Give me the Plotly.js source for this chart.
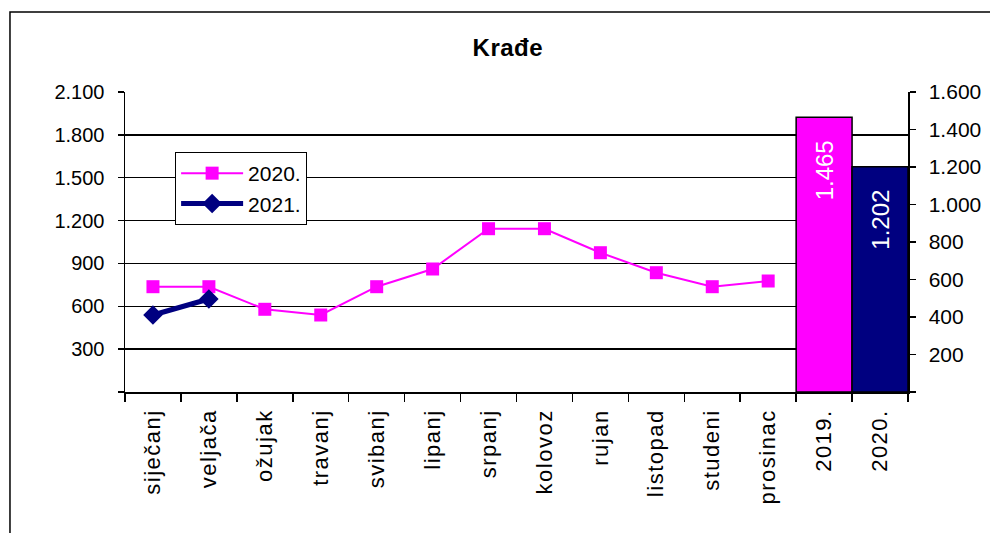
<!DOCTYPE html>
<html><head><meta charset="utf-8">
<script src="https://cdn.plot.ly/plotly-3.0.1.min.js"></script>
<style>body{margin:0;background:#fff}#c{width:990px;height:533px}
#c .xtick text{letter-spacing:1.5px}
#c .gtitle{letter-spacing:0.5px}
</style>
</head><body><div id="c"></div>
<script>
const categories = ['siječanj','veljača','ožujak','travanj','svibanj','lipanj','srpanj','kolovoz','rujan','listopad','studeni','prosinac','2019.','2020.'];
const months = categories.slice(0,12);
const values2020 = [737,737,579,539,737,861,1143,1143,975,835,737,777];
const months2021 = ['siječanj','veljača'];
const values2021 = [539,651];
const barCats = ['2019.','2020.'];
const barValues = [1465,1202];
const leftTicks = [0,300,600,900,1200,1500,1800,2100];
const leftTickText = ['','300','600','900','1.200','1.500','1.800','2.100'];
const rightTicks = [0,200,400,600,800,1000,1200,1400,1600];
const rightTickText = ['','200','400','600','800','1.000','1.200','1.400','1.600'];

const F = 'Liberation Sans, Arial, sans-serif';
const traces = [
  {type:'bar', x:barCats, y:barValues, yaxis:'y2', showlegend:false,
   marker:{color:['#FF00FF','#000080'], line:{color:'#000', width:1.5}},
   texttemplate:'%{y:,}\u00a0\u00a0\u00a0', textposition:'inside', insidetextanchor:'end', textangle:-90,
   textfont:{color:'#fff', size:24, family:F}, hoverinfo:'x+y'},
  {type:'scatter', mode:'lines+markers', name:'2020.', x:months, y:values2020,
   line:{color:'#FF00FF', width:2}, marker:{symbol:'square', size:13, color:'#FF00FF'}},
  {type:'scatter', mode:'lines+markers', name:'2021.', x:months2021, y:values2021,
   line:{color:'#000080', width:5}, marker:{symbol:'diamond', size:15, color:'#000080'}}
];
const layout = {
  width:990, height:533, separators:',.',
  margin:{l:125, r:82, t:92, b:141, pad:0},
  paper_bgcolor:'#fff', plot_bgcolor:'#fff',
  font:{family:F, size:20, color:'#000'},
  title:{text:'<b>Krađe</b>', x:0.513, xanchor:'center', y:0.91, yanchor:'middle', font:{size:24, family:F}},
  bargap:0,
  xaxis:{type:'category', categoryorder:'array', categoryarray:categories, range:[-0.5,13.5],
    tickangle:-90, ticks:'outside', tickson:'boundaries', ticklen:8, tickwidth:1.5, tickcolor:'#000',
    ticklabelstandoff:7,
    showline:true, linecolor:'#000', linewidth:1.5, showgrid:false, tickfont:{size:22, family:F}},
  yaxis:{range:[0,2100], tickmode:'array', tickvals:leftTicks, ticktext:leftTickText,
    ticks:'outside', ticklen:6, tickwidth:1.5, tickcolor:'#000', ticklabelstandoff:9,
    showline:true, linecolor:'#000', linewidth:1.5, showgrid:true, gridcolor:'#000', gridwidth:1.5,
    zeroline:false, tickfont:{size:20, family:F}},
  yaxis2:{range:[0,1600], overlaying:'y', side:'right', tickmode:'array', tickvals:rightTicks, ticktext:rightTickText,
    ticks:'outside', ticklen:6, tickwidth:1.5, tickcolor:'#000', ticklabelstandoff:9,
    showline:true, linecolor:'#000', linewidth:1.5, showgrid:false, zeroline:false, tickfont:{size:21, family:F}},
  legend:{x:0.064, y:0.8, xanchor:'left', yanchor:'top', bgcolor:'#fff', bordercolor:'#000', borderwidth:1,
    font:{size:21, family:F}, itemwidth:62, tracegroupgap:0},
  shapes:[{type:'rect', xref:'paper', yref:'paper', x0:-0.1469, x1:1.2, y0:-0.6, y1:1.2667,
    line:{color:'#000', width:1.5}, fillcolor:'rgba(0,0,0,0)', layer:'below'}]
};
Plotly.newPlot('c', traces, layout, {displayModeBar:false, staticPlot:true});
</script></body></html>
